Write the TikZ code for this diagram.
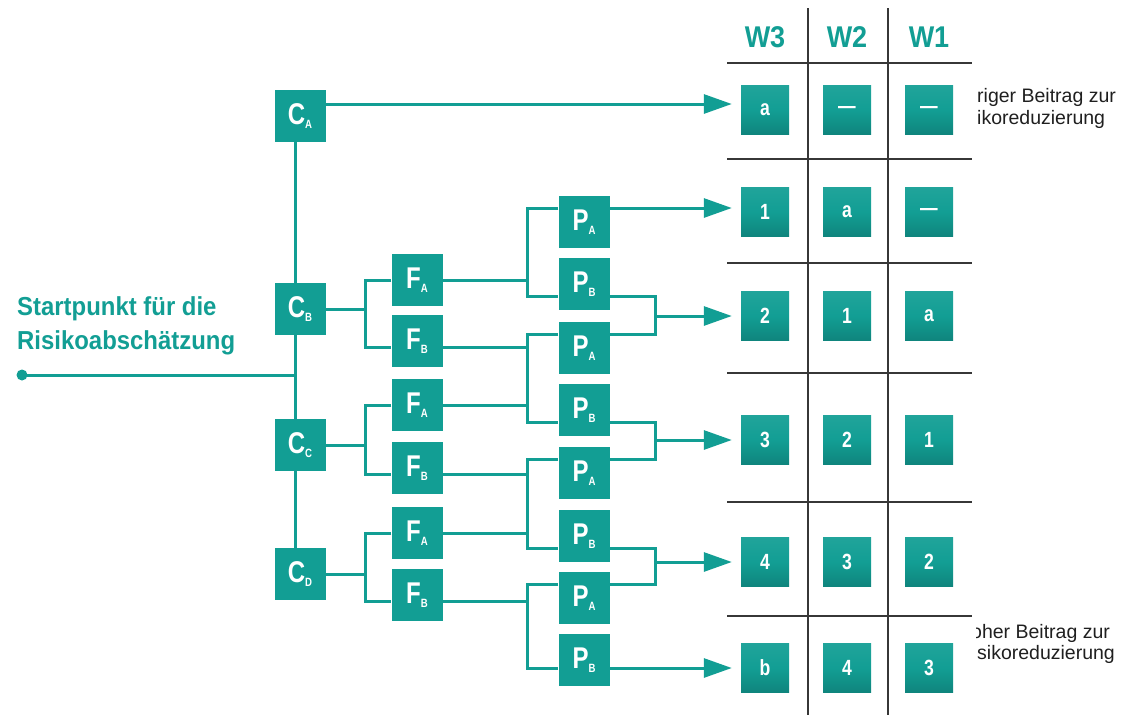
\documentclass[tikz,border=0pt]{standalone}
\usepackage{fontspec}
\setmainfont{Liberation Sans}
\newfontfamily\cnd[FakeStretch=0.8]{Liberation Sans}
\newfontfamily\hdr[FakeStretch=0.9]{Liberation Sans}
\newfontfamily\lbl[FakeStretch=0.92]{Liberation Sans}
\usetikzlibrary{arrows.meta,backgrounds}
\definecolor{tl}{RGB}{18,158,148}
\definecolor{gridc}{RGB}{55,55,55}
% letter with a small index at its lower right
\newcommand\boxlab[2]{#1\raisebox{-4pt}{\fontsize{12}{12}\selectfont #2}}

\begin{document}
\begin{tikzpicture}[x=1pt,y=-1pt,
  blk/.style={fill=tl, minimum width=51pt, minimum height=52pt, inner sep=0pt,
    text=white, font=\cnd\bfseries\fontsize{30}{30}\selectfont},
  cell/.style={top color=tl!94!white, bottom color=tl!84!black, middle color=tl,
    minimum width=48pt, minimum height=49pt, inner sep=0pt,
    text=white, font=\cnd\bfseries\fontsize{22}{22}\selectfont},
  wire/.style={draw=tl, line width=3pt},
  arr/.style={wire, -{Triangle[length=28pt,width=19pt]}, shorten >=9pt},
  rule/.style={draw=gridc, line width=1.8pt},
  head/.style={text=tl, font=\hdr\bfseries\fontsize{30}{30}\selectfont},
  start/.style={anchor=base west, inner sep=0pt, text=tl,
    font=\lbl\bfseries\fontsize{26}{26}\selectfont},
  note/.style={anchor=base west, inner sep=0pt, text=black!88,
    font=\fontsize{19.5}{19.5}\selectfont},
]
\useasboundingbox (0,0) rectangle (1136,715);

% ---- start label and point
\node[start] (st1) at (17,315) {Startpunkt für die};
\node[start] (st2) at (17,349) {Risikoabschätzung};
\coordinate (start) at (22,375);

% ---- column of C boxes
\node[blk] (CA) at (300,116) {\boxlab{C}{A}};
\node[blk] (CB) at (300,309) {\boxlab{C}{B}};
\node[blk] (CC) at (300,445) {\boxlab{C}{C}};
\node[blk] (CD) at (300,574) {\boxlab{C}{D}};

% ---- column of F boxes
\node[blk] (FA1) at (417,280) {\boxlab{F}{A}};
\node[blk] (FB1) at (417,341) {\boxlab{F}{B}};
\node[blk] (FA2) at (417,405) {\boxlab{F}{A}};
\node[blk] (FB2) at (417,468) {\boxlab{F}{B}};
\node[blk] (FA3) at (417,533) {\boxlab{F}{A}};
\node[blk] (FB3) at (417,595) {\boxlab{F}{B}};

% ---- column of P boxes
\node[blk] (PA1) at (584,222) {\boxlab{P}{A}};
\node[blk] (PB1) at (584,284) {\boxlab{P}{B}};
\node[blk] (PA2) at (584,348) {\boxlab{P}{A}};
\node[blk] (PB2) at (584,410) {\boxlab{P}{B}};
\node[blk] (PA3) at (584,473) {\boxlab{P}{A}};
\node[blk] (PB3) at (584,536) {\boxlab{P}{B}};
\node[blk] (PA4) at (584,598) {\boxlab{P}{A}};
\node[blk] (PB4) at (584,660) {\boxlab{P}{B}};

% ---- result table
\node[head] (h3) at (765,37) {W3};
\node[head] (h2) at (847,37) {W2};
\node[head] (h1) at (929,37) {W1};
\foreach \y in {63,159,263,373,502,616} \draw[rule] (727,\y) -- (972,\y);
\draw[rule] (808,8) -- (808,715);
\draw[rule] (888,8) -- (888,715);

\node[cell] (r1a) at (765,110) {a}; \node[cell] (r1b) at (847,110) {—}; \node[cell] (r1c) at (929,110) {—};
\node[cell] (r2a) at (765,212) {1}; \node[cell] (r2b) at (847,212) {a}; \node[cell] (r2c) at (929,212) {—};
\node[cell] (r3a) at (765,316) {2}; \node[cell] (r3b) at (847,316) {1}; \node[cell] (r3c) at (929,316) {a};
\node[cell] (r4a) at (765,440) {3}; \node[cell] (r4b) at (847,440) {2}; \node[cell] (r4c) at (929,440) {1};
\node[cell] (r5a) at (765,562) {4}; \node[cell] (r5b) at (847,562) {3}; \node[cell] (r5c) at (929,562) {2};
\node[cell] (r6a) at (765,668) {b}; \node[cell] (r6b) at (847,668) {4}; \node[cell] (r6c) at (929,668) {3};

% ---- side notes, cut at the table edge
\begin{scope}
  \clip (976,0) rectangle (1136,715);
  \node[note] (n1) at (977,102) {riger Beitrag zur};
  \node[note] (n2) at (977,124) {ikoreduzierung};
  \node[note] (n3) at (971,638) {oher Beitrag zur};
  \node[note] (n4) at (977,659) {sikoreduzierung};
\end{scope}

% ---- attachment heights and junction columns
\coordinate (vx) at (295,0);
\coordinate (j1) at (365,0);
\coordinate (j2) at (527,0);
\coordinate (j3) at (655,0);
\coordinate (ca) at ([yshift=12pt]CA.east);
\coordinate (fa1) at (FA1.center);
\coordinate (fb1) at ([yshift=-6pt]FB1.center);
\coordinate (fa2) at (FA2.center);
\coordinate (fb2) at ([yshift=-6pt]FB2.center);
\coordinate (fa3) at (FA3.center);
\coordinate (fb3) at ([yshift=-6pt]FB3.center);
\coordinate (pa1) at ([yshift=14pt]PA1.center);
\coordinate (pb1) at ([yshift=-12pt]PB1.center);
\coordinate (pa2) at ([yshift=14pt]PA2.center);
\coordinate (pb2) at ([yshift=-12pt]PB2.center);
\coordinate (pa3) at ([yshift=14pt]PA3.center);
\coordinate (pb3) at ([yshift=-12pt]PB3.center);
\coordinate (pa4) at ([yshift=14pt]PA4.center);
\coordinate (pb4) at ([yshift=-8pt]PB4.center);

\begin{pgfonlayer}{background}
  % trunk
  \fill[tl] (start) circle[radius=5.5pt];
  \draw[wire] (start) -- (start -| vx);
  \draw[wire] (CA.center -| vx) -- (CD.center -| vx);
  \draw[arr] (ca) -- (ca -| r1a.west);

  % C -> F
  \draw[wire] (CB.east) -- (CB.east -| j1);
  \draw[wire] (fa1 -| FA1.west) -| (j1 |- fb1) -- (fb1 -| FB1.west);
  \draw[wire] (CC.east) -- (CC.east -| j1);
  \draw[wire] (fa2 -| FA2.west) -| (j1 |- fb2) -- (fb2 -| FB2.west);
  \draw[wire] (CD.east) -- (CD.east -| j1);
  \draw[wire] (fa3 -| FA3.west) -| (j1 |- fb3) -- (fb3 -| FB3.west);

  % F -> P
  \draw[wire] (fa1 -| FA1.east) -- (fa1 -| j2);
  \draw[wire] (pa1 -| PA1.west) -| (j2 |- pb1) -- (pb1 -| PB1.west);
  \draw[wire] (fb1 -| FB1.east) -- (fb1 -| j2);
  \draw[wire] (fa2 -| FA2.east) -- (fa2 -| j2);
  \draw[wire] (pa2 -| PA2.west) -| (j2 |- pb2) -- (pb2 -| PB2.west);
  \draw[wire] (fb2 -| FB2.east) -- (fb2 -| j2);
  \draw[wire] (fa3 -| FA3.east) -- (fa3 -| j2);
  \draw[wire] (pa3 -| PA3.west) -| (j2 |- pb3) -- (pb3 -| PB3.west);
  \draw[wire] (fb3 -| FB3.east) -- (fb3 -| j2);
  \draw[wire] (pa4 -| PA4.west) -| (j2 |- pb4) -- (pb4 -| PB4.west);

  % P -> table
  \draw[arr] (pa1 -| PA1.east) -- (pa1 -| r2a.west);
  \draw[wire] (pb1 -| PB1.east) -| (j3 |- pa2) -- (pa2 -| PA2.east);
  \draw[arr] (j3 |- r3a) -- (r3a.west);
  \draw[wire] (pb2 -| PB2.east) -| (j3 |- pa3) -- (pa3 -| PA3.east);
  \draw[arr] (j3 |- r4a) -- (r4a.west);
  \draw[wire] (pb3 -| PB3.east) -| (j3 |- pa4) -- (pa4 -| PA4.east);
  \draw[arr] (j3 |- r5a) -- (r5a.west);
  \draw[arr] (pb4 -| PB4.east) -- (pb4 -| r6a.west);
\end{pgfonlayer}
\end{tikzpicture}
\end{document}
